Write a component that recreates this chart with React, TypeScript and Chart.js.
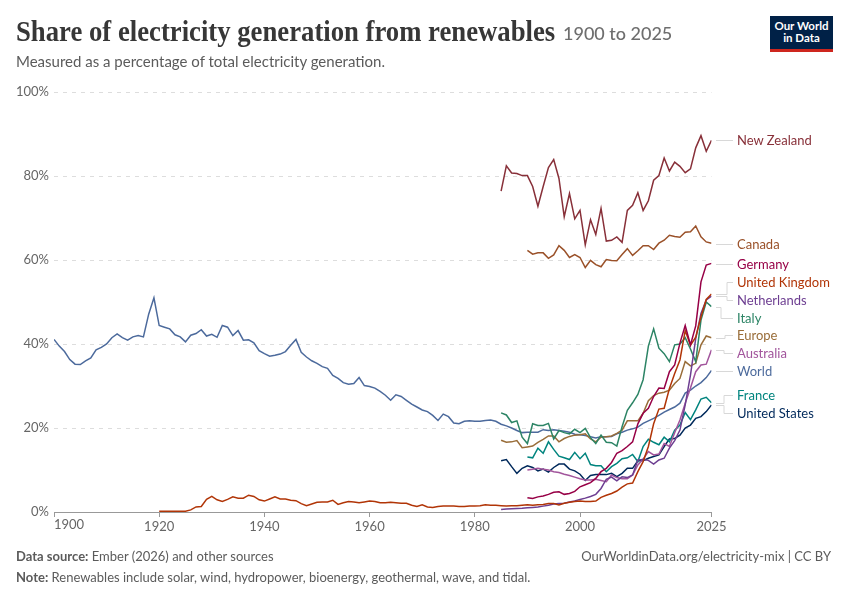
import React, { useEffect, useRef } from "react";
import { Chart, registerables } from "chart.js";

Chart.register(...registerables);

const xTicks = [1900, 1920, 1940, 1960, 1980, 2000, 2025];
const yTicks = [0, 20, 40, 60, 80, 100];

// values, one array per country, starting at the year next to it
const worldStart = 1900;
const world = [
  41.1, 39.5, 38.2, 36.3, 35.2, 35.1, 36, 36.7, 38.6, 39.2,
  40, 41.5, 42.4, 41.5, 40.9, 41.7, 42, 41.7, 47.1, 51,
  44.4, 44, 43.6, 42.2, 41.7, 40.5, 42.1, 42.5, 43.4, 41.9,
  42.3, 41.6, 44.4, 44, 42, 43.2, 40.9, 41, 40.3, 38.4,
  37.7, 37.1, 37.3, 37.6, 38.2, 39.7, 41.1, 38, 36.9, 36,
  35.4, 34.6, 34.2, 32.5, 31.8, 30.8, 30.4, 30.6, 32, 30.1,
  29.9, 29.5, 28.7, 27.8, 26.6, 27.9, 27.5, 26.6, 25.7, 25,
  24.3, 23.9, 23, 21.8, 23.3, 22.7, 21.2, 21, 21.6, 21.7,
  21.6, 21.6, 21.8, 21.9, 21.6, 20.9, 20.5, 20, 19.4, 18.9,
  19, 19, 19, 19.6, 19.4, 19.6, 19.4, 19.2, 19, 18.5,
  18.4, 18.2, 17.9, 17.6, 17.9, 17.9, 18, 18.6, 19, 19.5,
  19.8, 20.2, 21.1, 21.7, 22.3, 23, 23.8, 24.4, 25, 25.9,
  28.3, 29, 30, 30.8, 32, 33.7,
];

const unitedKingdomStart = 1920;
const unitedKingdom = [
  0.2, 0.2, 0.2, 0.2, 0.2, 0.2, 0.5, 1.2, 1.3, 3,
  3.7, 2.9, 2.5, 3, 3.6, 3.3, 3.3, 4, 3.7, 2.9,
  2.6, 3.1, 3.6, 3.1, 3.1, 2.8, 2.7, 2, 1.5, 1.9,
  2.3, 2.4, 2.4, 2.8, 1.8, 2.2, 2.5, 2.4, 2.2, 2.4,
  2.6, 2.5, 2.2, 2.2, 2.3, 2.2, 2.1, 2.1, 1.6, 1.3,
  1.7, 1.2, 1.1, 1.3, 1.4, 1.4, 1.4, 1.3, 1.3, 1.4,
  1.4, 1.5, 1.7, 1.6, 1.6, 1.5, 1.4, 1.5, 1.5, 1.6,
  1.7, 1.6, 1.7, 1.8, 2, 2, 1.7, 2.1, 2.3, 2.5,
  2.6, 2.5, 2.5, 2.6, 3.5, 4, 4.4, 5, 5.9, 6.7,
  6.9, 9.6, 12, 15.6, 21, 24.5, 24.7, 29.4, 33, 36.2,
  43.2, 39.7, 41.6, 46.5, 50.6, 51.9,
];

const newZealandStart = 1985;
const newZealand = [
  76.4, 82.4, 80.7, 80.6, 80.1, 80.1, 77.5, 72.8, 77.5, 82,
  83.9, 79.4, 70.3, 75.8, 69.8, 71.8, 63.6, 69.6, 66.1, 72.3,
  64.5, 64.7, 65.5, 64.2, 71.8, 73, 76, 71.8, 74.1, 79,
  80.1, 84.3, 81.2, 83.3, 82.3, 80.8, 81.7, 86.7, 89.6, 85.9,
  88.5,
];

const canadaStart = 1990;
const canada = [
  62.3, 61.4, 61.7, 61.7, 60.4, 61.2, 63.4, 62.3, 60.6, 61.3,
  60.6, 58.2, 59.9, 58.9, 58.4, 60.1, 59.9, 59.8, 61.3, 62.7,
  61.1, 62.2, 63.4, 63.4, 62.5, 64, 64.7, 65.9, 65.6, 65.4,
  66.6, 66.7, 68.1, 65.5, 64.3, 64,
];

const germanyStart = 1990;
const germany = [
  3.4, 3.2, 3.6, 3.8, 4.2, 4.7, 4.8, 4.2, 4.4, 4.9,
  6, 6.5, 7, 8, 9.6, 10.4, 11.8, 14, 14.6, 15.6,
  16.7, 21, 23.5, 24.7, 27.5, 29.5, 29.4, 33.4, 35, 40.2,
  44.4, 39.8, 44.3, 54.8, 58.8, 59.2,
];

const netherlandsStart = 1985;
const netherlands = [
  0.6, 0.7, 0.8, 0.85, 0.9, 1, 1.1, 1.2, 1.4, 1.6,
  1.9, 2, 2.1, 2.4, 2.6, 3, 3.3, 3.7, 4.2, 5.6,
  7.8, 8.3, 7.4, 8.4, 8.2, 8.8, 12.4, 12.5, 12.3, 11.4,
  12.4, 12.8, 15.2, 17, 19.5, 25.5, 32.6, 41.3, 47.3, 50.5,
  51.4,
];

const italyStart = 1985;
const italy = [
  23.6, 23.1, 21.3, 21.7, 17.8, 16.3, 21, 20.6, 20.6, 21.1,
  17.4, 19.4, 18.9, 18.6, 19.7, 18.9, 19.9, 17.7, 16.3, 18.3,
  16.6, 16.5, 15.7, 20.3, 24.2, 26, 28, 31.5, 39.5, 43.6,
  39, 37.7, 35.8, 39.8, 40, 41.5, 38.8, 35.8, 45.7, 50,
  48.9,
];

const europeStart = 1985;
const europe = [
  17.1, 16.6, 16.7, 17, 15.3, 15.5, 15.7, 16.6, 17.3, 18.1,
  18.1, 16.7, 17.5, 18, 18.3, 18.4, 18.6, 17.4, 16.7, 17.8,
  17.9, 18.1, 18.7, 19.5, 21.7, 21.7, 21.7, 23.5, 26.5, 27.7,
  28.3, 28.5, 29, 30.6, 31.8, 35.8, 34.8, 35.4, 39.8, 41.9,
  41.5,
];

const australiaStart = 1990;
const australia = [
  10, 10.2, 10.4, 10.2, 10, 9.6, 9.4, 9, 8.7, 8.3,
  7.9, 7.6, 7.6, 7.8, 7.5, 7.2, 8.8, 8.2, 7.9, 7.9,
  8.8, 11.2, 12.6, 14.4, 13.6, 13.8, 16.3, 15.6, 18.9, 21.9,
  25.9, 29.5, 33.4, 35, 35.2, 38.6,
];

const franceStart = 1990;
const france = [
  13.1, 12.9, 15.2, 14, 16.7, 14.9, 13.3, 12.9, 12.5, 14.2,
  12.7, 14, 11.3, 11, 11, 9.6, 10.8, 11.6, 12.7, 12.9,
  13.7, 12, 15.6, 17.3, 16.6, 16, 17.8, 16.7, 19.5, 20.7,
  23.7, 22, 24.3, 26.9, 27.3, 26,
];

const unitedStatesStart = 1985;
const unitedStates = [
  12.2, 12.5, 10.8, 9.2, 10.4, 11, 10.6, 9.8, 10.2, 9.5,
  10.6, 11.4, 11.4, 10.2, 9.8, 9, 7.5, 8.7, 8.9, 8.9,
  8.9, 9.2, 8.4, 9.2, 10.4, 10.4, 12.2, 12.2, 12.8, 13.2,
  13.6, 15.6, 17.4, 17.5, 18.3, 20, 20.7, 22.3, 22.7, 23.9,
  25.5,
];

const toPoints = (start: number, values: number[]) =>
  values.map((y, i) => ({ x: start + i, y }));

const series = [
  { name: "New Zealand", color: "#883039", start: newZealandStart, values: newZealand },
  { name: "Canada", color: "#9A5129", start: canadaStart, values: canada },
  { name: "Germany", color: "#970046", start: germanyStart, values: germany },
  { name: "United Kingdom", color: "#B13507", start: unitedKingdomStart, values: unitedKingdom },
  { name: "Netherlands", color: "#6D3E91", start: netherlandsStart, values: netherlands },
  { name: "Italy", color: "#2C8465", start: italyStart, values: italy },
  { name: "Europe", color: "#996D39", start: europeStart, values: europe },
  { name: "Australia", color: "#A2559C", start: australiaStart, values: australia },
  { name: "World", color: "#4C6A9C", start: worldStart, values: world },
  { name: "France", color: "#00847E", start: franceStart, values: france },
  { name: "United States", color: "#00295B", start: unitedStatesStart, values: unitedStates },
];

// where the end labels sit, and the x of the elbow in their connector (none = straight)
const labelLayout: Record<string, { y: number; elbow?: number }> = {
  "New Zealand": { y: 140 },
  Canada: { y: 244 },
  Germany: { y: 264 },
  "United Kingdom": { y: 282, elbow: 727 },
  Netherlands: { y: 300, elbow: 727 },
  Italy: { y: 318, elbow: 721 },
  Europe: { y: 335, elbow: 725 },
  Australia: { y: 353, elbow: 724 },
  World: { y: 371 },
  France: { y: 395, elbow: 724 },
  "United States": { y: 413, elbow: 724 },
};

const connectorPlugin = {
  id: "connectors",
  afterDatasetsDraw(chart: Chart) {
    const { ctx } = chart;
    const yScale = chart.scales.y;
    ctx.save();
    ctx.strokeStyle = "#d8d8d8";
    ctx.lineWidth = 1;
    series.forEach((s) => {
      const layout = labelLayout[s.name];
      const endY = Math.round(yScale.getPixelForValue(s.values[s.values.length - 1])) + 0.5;
      const labelY = layout.y + 0.5;
      ctx.beginPath();
      ctx.moveTo(716, layout.elbow ? endY : labelY);
      if (layout.elbow) {
        ctx.lineTo(layout.elbow, endY);
        ctx.lineTo(layout.elbow, labelY);
      }
      ctx.lineTo(733, labelY);
      ctx.stroke();
    });
    ctx.restore();
  },
};

const sans = "Lato, sans-serif";

const absText = (left: number, centerY: number): React.CSSProperties => ({
  position: "absolute",
  left,
  top: centerY,
  transform: "translateY(-50%)",
  whiteSpace: "nowrap",
  fontFamily: sans,
});

export default function App() {
  const canvasRef = useRef<HTMLCanvasElement | null>(null);

  useEffect(() => {
    if (!canvasRef.current) return;

    const chart = new Chart(canvasRef.current, {
      type: "line",
      data: {
        datasets: series.map((s) => ({
          label: s.name,
          data: toPoints(s.start, s.values),
          borderColor: s.color,
          borderWidth: 1.5,
          pointRadius: 0,
          tension: 0,
          fill: false,
        })),
      },
      options: {
        responsive: false,
        animation: false,
        layout: { padding: { top: 92, right: 138.5, left: 0, bottom: 0 } },
        plugins: { legend: { display: false }, tooltip: { enabled: false } },
        scales: {
          x: {
            type: "linear",
            min: 1900,
            max: 2025,
            afterBuildTicks: (scale) => {
              scale.ticks = xTicks.map((value) => ({ value }));
            },
            afterFit: (scale) => {
              scale.height = 88;
            },
            grid: { drawOnChartArea: false, color: "#999", tickLength: 5 },
            border: { color: "#999" },
            ticks: {
              autoSkip: false,
              maxRotation: 0,
              padding: 2,
              color: "#666",
              font: { family: sans, size: 13 },
              // 1900 sits to the right of its tick, so it is placed by hand below
              callback: (v) => (v === 1900 ? "" : String(v)),
            },
          },
          y: {
            min: 0,
            max: 100,
            afterBuildTicks: (scale) => {
              scale.ticks = yTicks.map((value) => ({ value }));
            },
            afterFit: (scale) => {
              scale.width = 54;
            },
            grid: { color: "#dddddd", drawTicks: false },
            border: { display: false, dash: [4, 5] },
            ticks: {
              padding: 5,
              color: "#666",
              font: { family: sans, size: 13 },
              callback: (v) => `${v}%`,
            },
          },
        },
      },
      plugins: [connectorPlugin],
    });

    return () => {
      chart.destroy();
    };
  }, []);

  return (
    <div style={{ position: "relative", width: 850, height: 600, background: "#fff", overflow: "hidden" }}>
      <style>{"body{margin:0}"}</style>
      <canvas ref={canvasRef} width={850} height={600} style={{ display: "block" }} />

      <div
        style={{
          ...absText(16, 31),
          fontFamily: "'Liberation Serif', serif",
          fontWeight: 700,
          fontSize: 29,
          color: "#373737",
          transform: "translateY(-50%) scaleX(0.921)",
          transformOrigin: "left center",
        }}
      >
        Share of electricity generation from renewables
      </div>
      <div style={{ ...absText(563, 33), fontSize: 18, fontWeight: 500, color: "#6e6e6e" }}>1900 to 2025</div>
      <div style={{ ...absText(16, 61), fontSize: 15, color: "#5b5b5b" }}>
        Measured as a percentage of total electricity generation.
      </div>

      <div
        style={{
          position: "absolute",
          left: 770,
          top: 16,
          width: 63,
          height: 36,
          background: "#002147",
          borderBottom: "3px solid #ce261e",
          boxSizing: "border-box",
          color: "#fff",
          fontFamily: sans,
          fontWeight: 700,
          fontSize: 11.5,
          lineHeight: "12px",
          textAlign: "center",
          paddingTop: 4,
        }}
      >
        Our World
        <br />
        in Data
      </div>

      <div style={{ ...absText(54, 524), fontSize: 13, color: "#666" }}>1900</div>

      {series.map((s) => (
        <div key={s.name} style={{ ...absText(737, labelLayout[s.name].y), fontSize: 13, color: s.color }}>
          {s.name}
        </div>
      ))}

      <div style={{ ...absText(16, 556), fontSize: 13, color: "#5b5b5b" }}>
        <b>Data source:</b> Ember (2026) and other sources
      </div>
      <div style={{ ...absText(16, 577), fontSize: 13, color: "#5b5b5b" }}>
        <b>Note:</b> Renewables include solar, wind, hydropower, bioenergy, geothermal, wave, and tidal.
      </div>
      <div
        style={{
          position: "absolute",
          right: 19,
          top: 556,
          transform: "translateY(-50%)",
          whiteSpace: "nowrap",
          fontFamily: sans,
          fontSize: 13,
          color: "#5b5b5b",
        }}
      >
        OurWorldinData.org/electricity-mix | CC BY
      </div>
    </div>
  );
}
